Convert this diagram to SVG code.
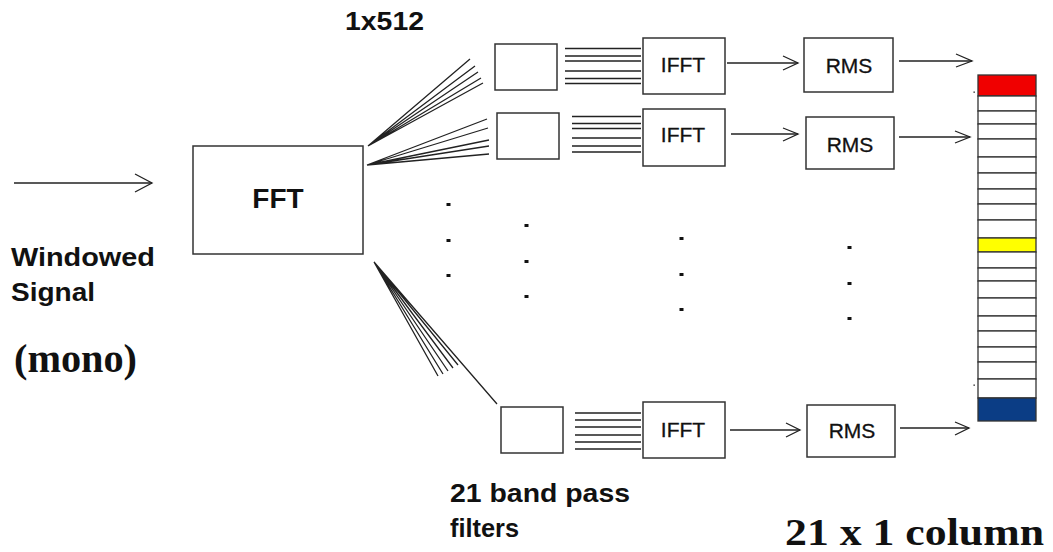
<svg xmlns="http://www.w3.org/2000/svg" width="1053" height="552" viewBox="0 0 1053 552">
<style>
.box{fill:#fff;stroke:#333;stroke-width:1.5}
.ln{stroke:#222;stroke-width:1.3;fill:none}
.ah{stroke:#222;stroke-width:1.3;fill:none}
.lbl{font-family:"Liberation Sans",Arial,sans-serif;font-weight:bold;fill:#111}
.box-t{font-family:"Liberation Sans",Arial,sans-serif;fill:#111;text-anchor:middle;stroke:#111;stroke-width:0.3}
.serif{font-family:"Liberation Serif","Times New Roman",serif;font-weight:bold;fill:#111}
.dot{fill:#111}
.cell{fill:#fff;stroke:#333;stroke-width:1.3}
</style>
<rect width="1053" height="552" fill="#fff"/>

<!-- labels -->
<text class="lbl" x="345" y="30" font-size="25" textLength="79" lengthAdjust="spacingAndGlyphs">1x512</text>
<text class="lbl" x="11" y="266" font-size="25" textLength="144" lengthAdjust="spacingAndGlyphs">Windowed</text>
<text class="lbl" x="11" y="301" font-size="25" textLength="84" lengthAdjust="spacingAndGlyphs">Signal</text>
<text class="serif" x="14" y="372" font-size="40" textLength="123" lengthAdjust="spacingAndGlyphs">(mono)</text>
<text class="lbl" x="450" y="502" font-size="26" textLength="180" lengthAdjust="spacingAndGlyphs">21 band pass</text>
<text class="lbl" x="450" y="537" font-size="26" textLength="69" lengthAdjust="spacingAndGlyphs">filters</text>
<text class="serif" x="785" y="545" font-size="38" textLength="259" lengthAdjust="spacingAndGlyphs">21 x 1 column</text>

<!-- FFT -->
<g id="fft">
<rect class="box" x="193" y="146" width="170" height="108"/>
<text class="box-t" x="278" y="208" font-size="28" font-weight="bold" style="stroke:none">FFT</text>
</g>

<!-- row 1 -->
<g id="filter1"><rect class="box" x="495" y="44" width="62" height="46"/></g>
<g id="ifft1"><rect class="box" x="643" y="38" width="82" height="56"/><text class="box-t" x="683" y="72" font-size="21">IFFT</text></g>
<g id="rms1"><rect class="box" x="804" y="38" width="89" height="54"/><text class="box-t" x="849" y="73" font-size="21">RMS</text></g>

<!-- row 2 -->
<g id="filter2"><rect class="box" x="497" y="113" width="62" height="46"/></g>
<g id="ifft2"><rect class="box" x="643" y="109" width="82" height="57"/><text class="box-t" x="683" y="142" font-size="21">IFFT</text></g>
<g id="rms2"><rect class="box" x="806" y="117" width="88" height="52"/><text class="box-t" x="850" y="152" font-size="21">RMS</text></g>

<!-- row 3 -->
<g id="filter3"><rect class="box" x="501" y="407" width="62" height="46"/></g>
<g id="ifft3"><rect class="box" x="643" y="402" width="82" height="56"/><text class="box-t" x="683" y="437" font-size="21">IFFT</text></g>
<g id="rms3"><rect class="box" x="807" y="405" width="88" height="52"/><text class="box-t" x="852" y="438" font-size="21">RMS</text></g>

<!-- output column -->
<g id="column">
<rect x="978" y="75" width="58" height="21" fill="#f00000" stroke="#333" stroke-width="1.3"/>
<rect class="cell" x="978" y="96" width="58" height="15"/>
<rect class="cell" x="978" y="111" width="58" height="13"/>
<rect class="cell" x="978" y="124" width="58" height="15"/>
<rect class="cell" x="978" y="139" width="58" height="18"/>
<rect class="cell" x="978" y="157" width="58" height="16"/>
<rect class="cell" x="978" y="173" width="58" height="16"/>
<rect class="cell" x="978" y="189" width="58" height="15"/>
<rect class="cell" x="978" y="204" width="58" height="16"/>
<rect class="cell" x="978" y="220" width="58" height="18"/>
<rect x="978" y="238" width="58" height="14" fill="#ffff00" stroke="#333" stroke-width="1.3"/>
<rect class="cell" x="978" y="252" width="58" height="16"/>
<rect class="cell" x="978" y="268" width="58" height="13"/>
<rect class="cell" x="978" y="281" width="58" height="17"/>
<rect class="cell" x="978" y="298" width="58" height="18"/>
<rect class="cell" x="978" y="316" width="58" height="15"/>
<rect class="cell" x="978" y="331" width="58" height="16"/>
<rect class="cell" x="978" y="347" width="58" height="15"/>
<rect class="cell" x="978" y="362" width="58" height="17"/>
<rect class="cell" x="978" y="379" width="58" height="19"/>
<rect x="978" y="398" width="58" height="23" fill="#0b3d85" stroke="#333" stroke-width="1.3"/>
<rect class="dot" x="973.5" y="91.5" width="1.3" height="1.3"/>
<rect class="dot" x="973.5" y="384.5" width="1.3" height="1.3"/>
</g>

<!-- ellipsis dots -->
<g id="dots">
<rect class="dot" x="446.5" y="203" width="4" height="3"/>
<rect class="dot" x="446.5" y="239" width="4" height="3"/>
<rect class="dot" x="446.5" y="274" width="4" height="3"/>
<rect class="dot" x="524.5" y="224" width="4" height="3"/>
<rect class="dot" x="524.5" y="260" width="4" height="3"/>
<rect class="dot" x="524.5" y="295" width="4" height="3"/>
<rect class="dot" x="679.5" y="237" width="4" height="3"/>
<rect class="dot" x="679.5" y="273" width="4" height="3"/>
<rect class="dot" x="679.5" y="308" width="4" height="3"/>
<rect class="dot" x="847.5" y="246" width="4" height="3"/>
<rect class="dot" x="847.5" y="282" width="4" height="3"/>
<rect class="dot" x="847.5" y="317" width="4" height="3"/>
</g>

<!-- connectors -->
<g id="connectors">
<!-- input -->
<path class="ln" d="M14 183H152"/>
<path class="ah" d="M135 174L152 183L135 192"/>
<!-- fans -->
<path class="ln" d="M368 146L470 59M368 146L475 66M368 146L478 72M368 146L481 78M368 146L483 83"/>
<path class="ln" d="M367 165L487 119M367 165L488 128M367 165L489 140M367 165L489 146M367 165L489 154"/>
<path class="ln" d="M374 262L438 376M374 262L443 374M374 262L448 371M374 262L453 368M374 262L458 365M374 262L497 404"/>
<!-- parallel bundles -->
<path class="ln" d="M565 48.5H641M565 56H641M565 61H641M565 71H641M565 78.5H641M565 83.5H641"/>
<path class="ln" d="M572 116.5H641M572 123.5H641M572 128.5H641M572 138H641M572 146H641M572 152H641"/>
<path class="ln" d="M575 413H641M575 420H641M575 427H641M575 435H641M575 442H641M575 449H641"/>
<!-- IFFT to RMS -->
<path class="ln" d="M727 63H798"/><path class="ah" d="M783 56L798 63L783 70"/>
<path class="ln" d="M731 134H798"/><path class="ah" d="M783 128L798 134L783 141"/>
<path class="ln" d="M730 430H800"/><path class="ah" d="M786 423L800 430L786 437"/>
<!-- RMS to column -->
<path class="ln" d="M899 61H972"/><path class="ah" d="M956 54L972 61L956 67"/>
<path class="ln" d="M899 137H970"/><path class="ah" d="M955 131L970 137L955 143"/>
<path class="ln" d="M900 428H969"/><path class="ah" d="M955 422L969 428L955 435"/>
</g>
</svg>
